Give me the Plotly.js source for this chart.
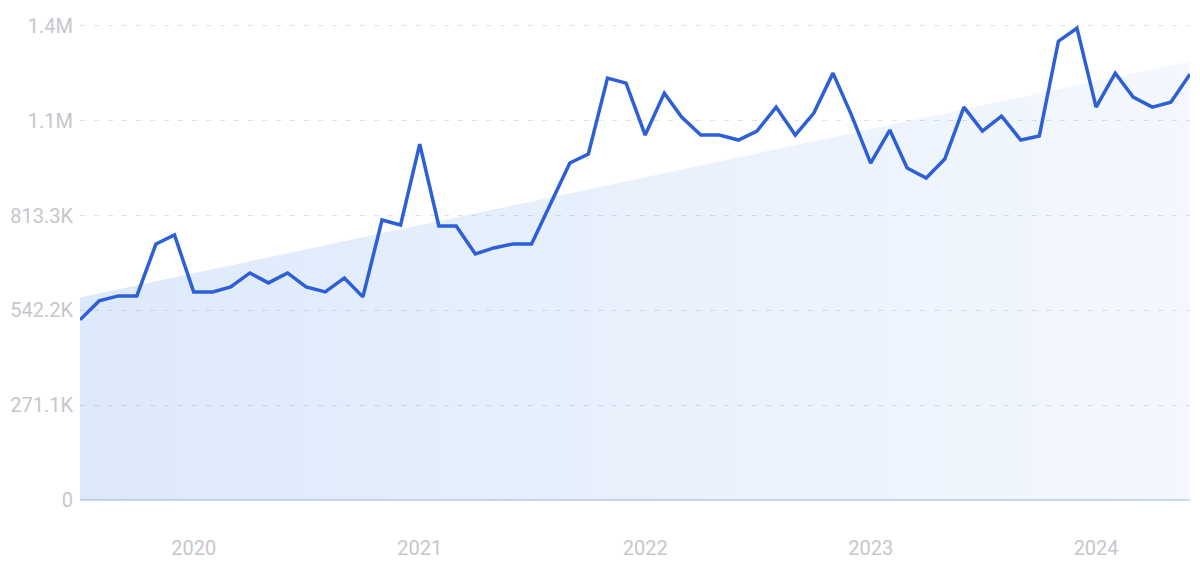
<!DOCTYPE html>
<html>
<head>
<meta charset="utf-8">
<script src="https://cdn.plot.ly/plotly-3.0.1.min.js"></script>
<style>
  html, body { margin: 0; padding: 0; background: #ffffff; }
  #chart { width: 1200px; height: 564px; }
</style>
</head>
<body>
<div id="chart"></div>
<script>
// Monthly dates, Jul 2019 – Jun 2024
const months = [
  "2019-07-01","2019-08-01","2019-09-01","2019-10-01","2019-11-01","2019-12-01",
  "2020-01-01","2020-02-01","2020-03-01","2020-04-01","2020-05-01","2020-06-01",
  "2020-07-01","2020-08-01","2020-09-01","2020-10-01","2020-11-01","2020-12-01",
  "2021-01-01","2021-02-01","2021-03-01","2021-04-01","2021-05-01","2021-06-01",
  "2021-07-01","2021-08-01","2021-09-01","2021-10-01","2021-11-01","2021-12-01",
  "2022-01-01","2022-02-01","2022-03-01","2022-04-01","2022-05-01","2022-06-01",
  "2022-07-01","2022-08-01","2022-09-01","2022-10-01","2022-11-01","2022-12-01",
  "2023-01-01","2023-02-01","2023-03-01","2023-04-01","2023-05-01","2023-06-01",
  "2023-07-01","2023-08-01","2023-09-01","2023-10-01","2023-11-01","2023-12-01",
  "2024-01-01","2024-02-01","2024-03-01","2024-04-01","2024-05-01","2024-06-01"
];

// Search volume
const volume = [
  515100, 569300, 583600, 583600, 732200, 757900,
  595100, 595100, 609300, 649300, 620800, 649300,
  609300, 595100, 635000, 580800, 800700, 786500,
  1017800, 783600, 783600, 703600, 720800, 732200,
  732200, 849300, 963600, 989300, 1206400, 1192100,
  1043600, 1163500, 1095000, 1043600, 1043600, 1029300,
  1055000, 1123500, 1043600, 1106400, 1220700, 1100700,
  963600, 1057800, 949300, 920700, 975000, 1123500,
  1055000, 1097800, 1029300, 1040700, 1312100, 1349200,
  1123500, 1220700, 1152100, 1123500, 1137800, 1217800
];

// Trend line endpoints
const trendDates = ["2019-07-01", "2024-06-01"];
const trendValues = [578800, 1255000];

// Axis ticks
const yTickVals = [0, 271100, 542200, 813300, 1084400, 1355500];
const yTickText = ["0", "271.1K", "542.2K", "813.3K", "1.1M", "1.4M"];
const xTickVals = ["2020-01-01", "2021-01-01", "2022-01-01", "2023-01-01", "2024-01-01"];
const xTickText = ["2020", "2021", "2022", "2023", "2024"];

const traces = [
  {
    x: trendDates,
    y: trendValues,
    type: "scatter",
    mode: "lines",
    line: { width: 0, color: "rgba(0,0,0,0)" },
    fill: "tozeroy",
    fillcolor: "rgba(60,130,235,0.12)",
    fillgradient: {
      type: "horizontal",
      colorscale: [[0, "rgba(60,130,235,0.175)"], [1, "rgba(60,130,235,0.055)"]]
    },
    hoverinfo: "skip",
    showlegend: false
  },
  {
    x: months,
    y: volume,
    type: "scatter",
    mode: "lines",
    line: { color: "#2d5fd6", width: 3.5, shape: "linear" },
    showlegend: false
  }
];

const labelFont = { family: "Roboto, 'DejaVu Sans', sans-serif", size: 20, color: "#c5c7cd" };

const layout = {
  width: 1200,
  height: 564,
  margin: { l: 80, r: 10, t: 24, b: 64 },
  paper_bgcolor: "#ffffff",
  plot_bgcolor: "#ffffff",
  showlegend: false,
  xaxis: {
    type: "date",
    range: ["2019-07-01", "2024-06-01"],
    tickmode: "array",
    tickvals: xTickVals,
    ticktext: xTickText,
    showgrid: false,
    zeroline: false,
    showline: false,
    ticks: "outside",
    ticklen: 30,
    tickcolor: "rgba(0,0,0,0)",
    tickfont: labelFont,
    fixedrange: true
  },
  yaxis: {
    range: [0, 1361200],
    tickmode: "array",
    tickvals: yTickVals,
    ticktext: yTickText,
    showgrid: true,
    gridcolor: "#dde2ea",
    griddash: "5px,9px",
    gridwidth: 1,
    zeroline: true,
    zerolinecolor: "#cddcf2",
    zerolinewidth: 1.5,
    showline: false,
    ticks: "",
    ticklabelstandoff: 6,
    tickfont: labelFont,
    fixedrange: true
  }
};

Plotly.newPlot("chart", traces, layout, { displayModeBar: false, staticPlot: true });
</script>
</body>
</html>
